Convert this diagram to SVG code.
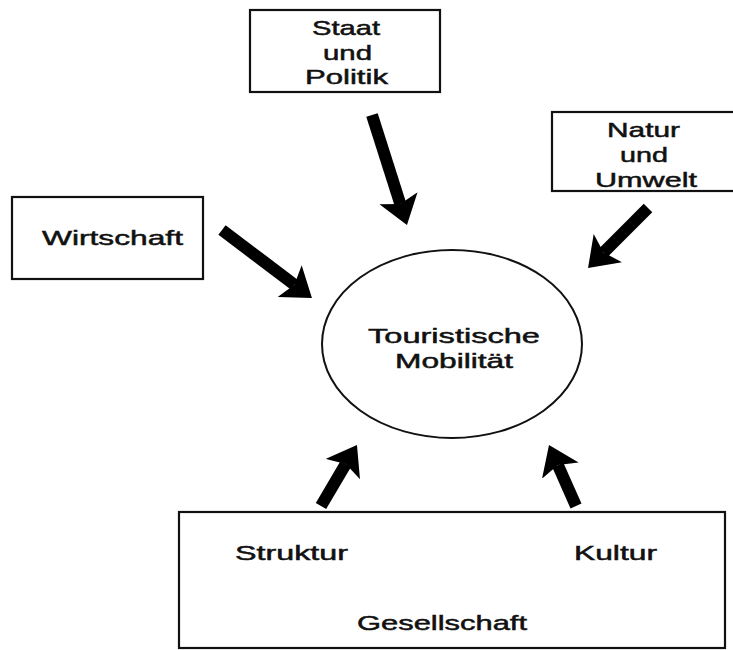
<svg xmlns="http://www.w3.org/2000/svg" width="733" height="650" viewBox="0 0 733 650">
<style>
.box{fill:#fff;stroke:#111;stroke-width:2.2}
.t{font-family:"Liberation Sans",Arial,sans-serif;font-size:21px;fill:#111;stroke:#111;stroke-width:0.5}
.shaft{stroke:#000;stroke-width:12;fill:none}
</style>
<defs>
<marker id="ah" viewBox="0 0 28 40" refX="6" refY="20" markerWidth="28" markerHeight="40" markerUnits="userSpaceOnUse" orient="auto">
<path d="M0,0 L28,20 L0,40 L6,20 z" fill="#000"/>
</marker>
</defs>
<rect width="733" height="650" fill="#fff"/>
<g id="staat">
<rect class="box" x="250" y="10" width="190" height="82"/>
<text class="t" x="312" y="35" textLength="68" lengthAdjust="spacingAndGlyphs">Staat</text>
<text class="t" x="323" y="60" textLength="49" lengthAdjust="spacingAndGlyphs">und</text>
<text class="t" x="305" y="84" textLength="83" lengthAdjust="spacingAndGlyphs">Politik</text>
</g>
<g id="natur">
<rect class="box" x="552" y="112" width="190" height="79"/>
<text class="t" x="607" y="137" textLength="73" lengthAdjust="spacingAndGlyphs">Natur</text>
<text class="t" x="620" y="162" textLength="48" lengthAdjust="spacingAndGlyphs">und</text>
<text class="t" x="595" y="187" textLength="102" lengthAdjust="spacingAndGlyphs">Umwelt</text>
</g>
<g id="wirtschaft">
<rect class="box" x="12" y="197" width="191" height="82"/>
<text class="t" x="42" y="245" textLength="141" lengthAdjust="spacingAndGlyphs">Wirtschaft</text>
</g>
<g id="mobilitaet">
<ellipse cx="452" cy="344" rx="130" ry="94" fill="#fff" stroke="#111" stroke-width="2"/>
<text class="t" x="368" y="343" textLength="172" lengthAdjust="spacingAndGlyphs">Touristische</text>
<text class="t" x="395" y="368" textLength="118" lengthAdjust="spacingAndGlyphs">Mobilität</text>
</g>
<g id="gesellschaft">
<rect class="box" x="179" y="512" width="546" height="136"/>
<text class="t" x="235" y="560" textLength="113" lengthAdjust="spacingAndGlyphs">Struktur</text>
<text class="t" x="574" y="560" textLength="83" lengthAdjust="spacingAndGlyphs">Kultur</text>
<text class="t" x="357" y="630" textLength="170" lengthAdjust="spacingAndGlyphs">Gesellschaft</text>
</g>
<g id="connectors">
<line class="shaft" x1="372" y1="115" x2="400.3" y2="204" marker-end="url(#ah)"/>
<line class="shaft" x1="648" y1="208" x2="603.6" y2="252.4" marker-end="url(#ah)"/>
<line class="shaft" x1="222" y1="230" x2="294.4" y2="284.7" marker-end="url(#ah)"/>
<line class="shaft" x1="321" y1="506" x2="345.8" y2="463.9" marker-end="url(#ah)"/>
<line class="shaft" x1="576" y1="506" x2="557.9" y2="465.1" marker-end="url(#ah)"/>
</g>
</svg>
